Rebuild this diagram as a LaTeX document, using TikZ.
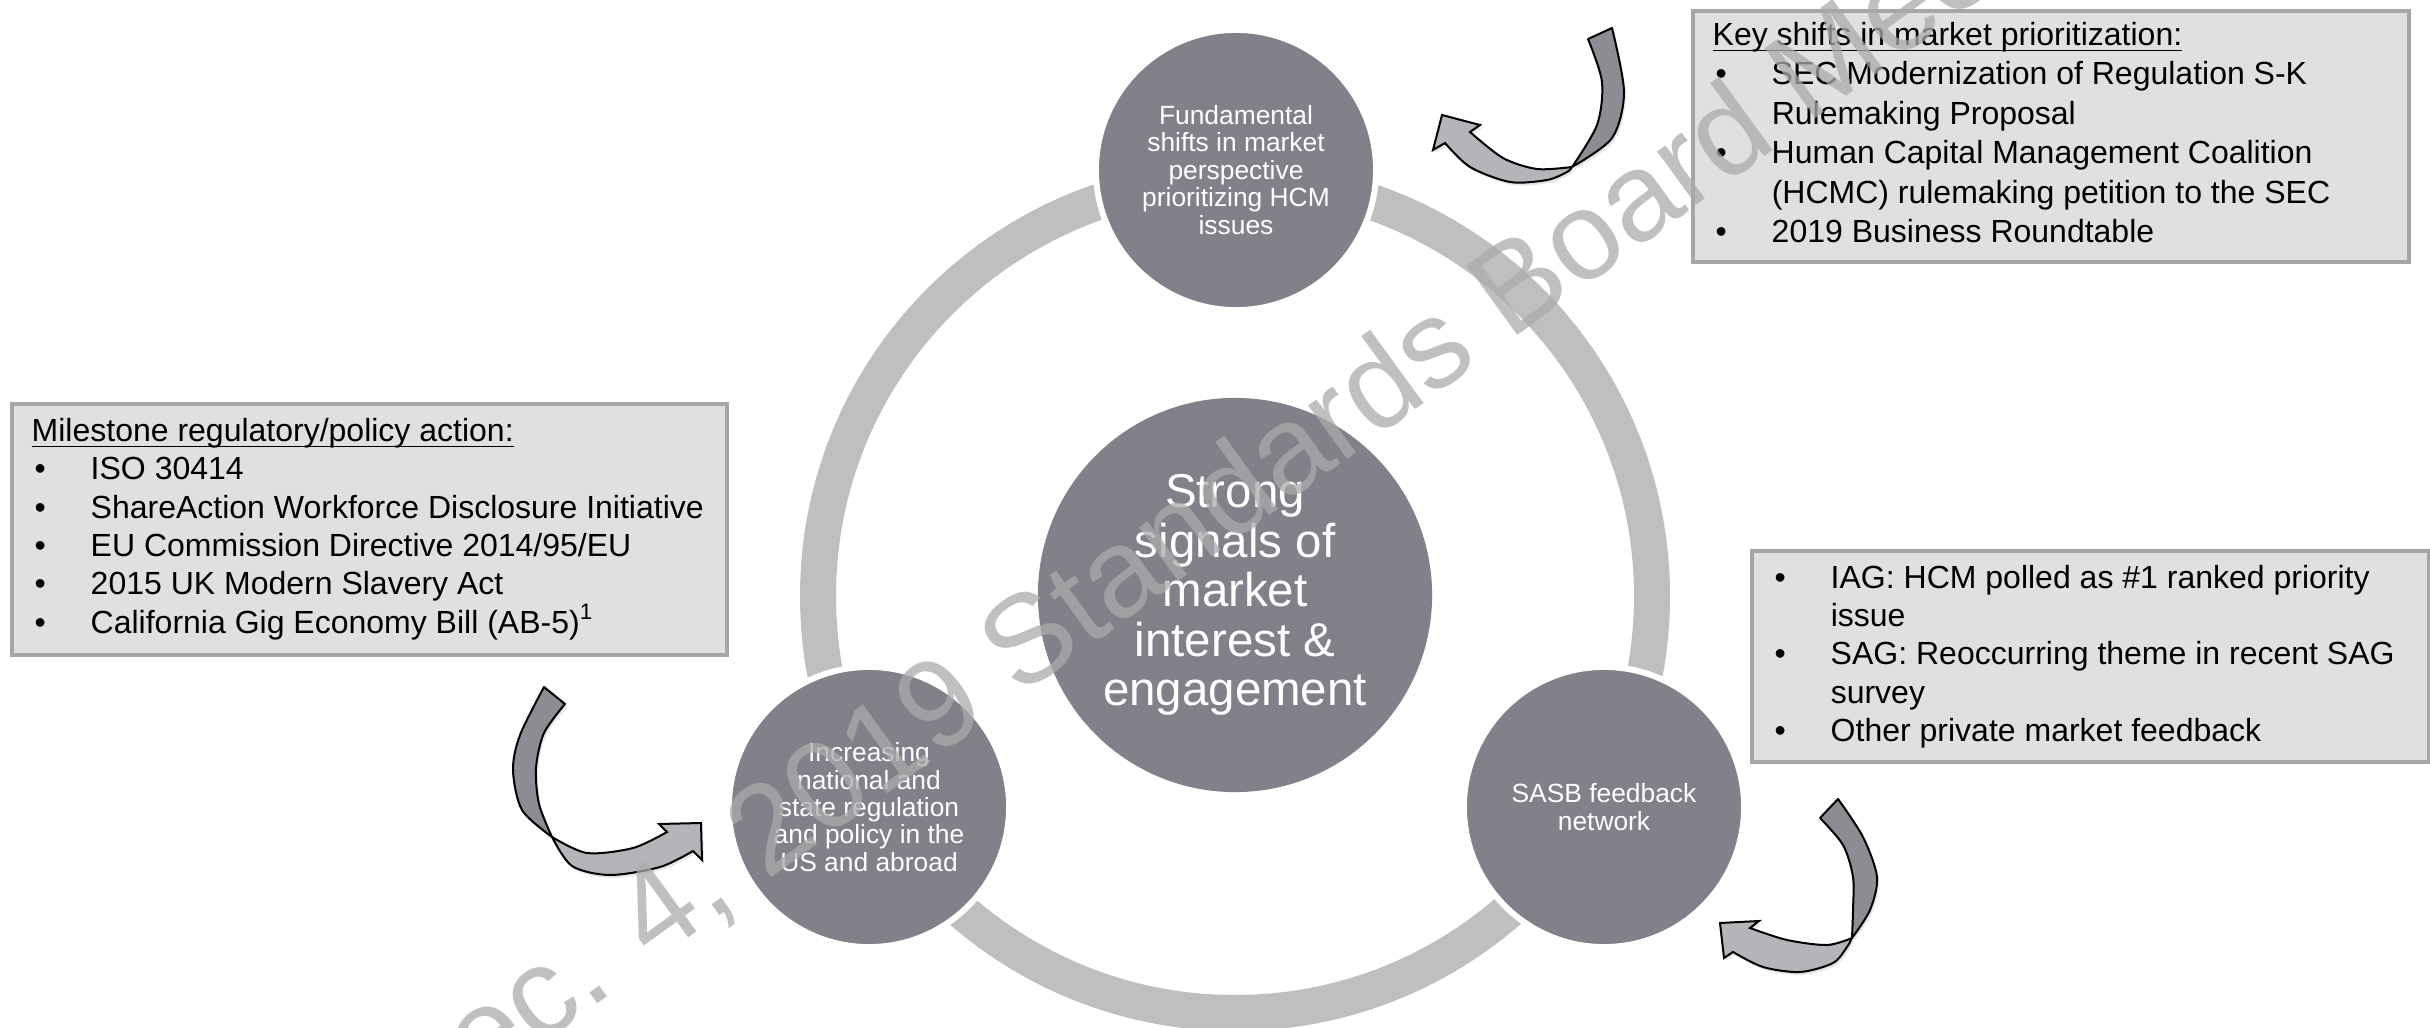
\documentclass[tikz,border=0pt]{standalone}
\usepackage{fontspec}
\setmainfont{Liberation Sans}
\usetikzlibrary{shadows}

\definecolor{ringgray}{RGB}{191,191,191}
\definecolor{discgray}{RGB}{128,129,137}
\definecolor{boxfill}{RGB}{224,224,226}
\definecolor{boxline}{RGB}{166,166,166}
\definecolor{backgray}{RGB}{140,141,147}
\definecolor{frontgray}{RGB}{180,181,185}
\definecolor{markgray}{RGB}{171,171,171}

\newcommand{\bpt}{\makebox[0.59cm][l]{\hspace{0.03cm}\textbullet}}
\newcommand{\bgap}{\hspace*{0.59cm}}
\newcommand{\boxhead}[1]{\underline{\smash{#1}}\vphantom{Ky}}

\begin{document}
\begin{tikzpicture}[x=0.01cm, y=-0.01cm,
    disc/.style={circle, fill=discgray, draw=white, line width=0.06cm, minimum size=2.8cm,
      inner sep=0pt, align=center, text=white, font=\fontsize{7.5}{7.8}\selectfont},
    infobox/.style={rectangle, fill=boxfill, draw=boxline, line width=0.04cm, anchor=north west},
    boxtext/.style={anchor=west, align=left, inner sep=0pt, font=\fontsize{9.1}{10.9}\selectfont},
    backface/.style={fill=backgray, draw=black, line width=0.02cm, line join=round,
      drop shadow={opacity=0.2, shadow xshift=0.02cm, shadow yshift=-0.03cm}},
    frontface/.style={fill=frontgray, draw=black, line width=0.02cm,
      drop shadow={opacity=0.2, shadow xshift=0.02cm, shadow yshift=-0.03cm}}]
  \useasboundingbox (0,0) rectangle (2430,1027);

  \draw [ringgray, line width=0.36cm] (1235,596) circle [radius=417];

  \node [disc] (shiftdisc) at (1236,170) {Fundamental\\shifts in market\\perspective\\prioritizing HCM\\issues};
  \node [disc] (policydisc) at (869,807) {Increasing\\national and\\state regulation\\and policy in the\\US and abroad};
  \node [disc] (feedbackdisc) at (1604,807) {SASB feedback\\network};
  \node [disc, draw=none, minimum size=3.94cm, font=\fontsize{13.5}{14.1}\selectfont] (core) at (1235,595)
    {Strong\\signals of\\market\\interest \&\\engagement};

  \node [infobox, minimum width=7.16cm, minimum height=2.51cm] (shiftbox) at (1691,9) {};
  \node [boxtext, font=\fontsize{9.1}{11.2}\selectfont] (shifttext) at ([xshift=0.21cm, yshift=0.035cm]shiftbox.west)
    {\boxhead{Key shifts in market prioritization:}\\
     \bpt SEC Modernization of Regulation S-K\\
     \bgap Rulemaking Proposal\\
     \bpt Human Capital Management Coalition\\
     \bgap (HCMC) rulemaking petition to the SEC\\
     \bpt 2019 Business Roundtable};

  \node [infobox, minimum width=7.15cm, minimum height=2.51cm] (policybox) at (10,402) {};
  \node [boxtext] (policytext) at ([xshift=0.21cm]policybox.west)
    {\boxhead{Milestone regulatory/policy action:}\\
     \bpt ISO 30414\\
     \bpt ShareAction Workforce Disclosure Initiative\\
     \bpt EU Commission Directive 2014/95/EU\\
     \bpt 2015 UK Modern Slavery Act\\
     \bpt California Gig Economy Bill (AB-5)\textsuperscript{1}};

  \node [infobox, minimum width=6.77cm, minimum height=2.11cm] (feedbackbox) at (1750,549) {};
  \node [boxtext] (feedbacktext) at ([xshift=0.21cm]feedbackbox.west)
    {\bpt IAG: HCM polled as \#1 ranked priority\\
     \bgap issue\\
     \bpt SAG: Reoccurring theme in recent SAG\\
     \bgap survey\\
     \bpt Other private market feedback};

  % curved arrows
  \filldraw [backface] plot [smooth] coordinates {(1612,28) (1624,92) (1612,138) (1572,167)}
    -- plot [smooth] coordinates {(1572,167) (1597,125) (1602,82) (1588,39)} -- cycle;
  \filldraw [frontface] plot [smooth] coordinates {(1572,167) (1537,169) (1503,158) (1470,132)}
    -- (1480,125) -- (1442,115) -- (1433,150) -- (1445,143)
    -- plot [smooth] coordinates {(1445,143) (1470,167) (1510,182) (1547,180) (1567,172) (1572,167)} -- cycle;

  \filldraw [backface] plot [smooth] coordinates {(544,687) (520,735) (513,770) (522,810) (552,837)}
    -- plot [smooth] coordinates {(552,837) (539,804) (536,768) (544,733) (565,704)} -- cycle;
  \filldraw [frontface] plot [smooth] coordinates {(552,837) (587,853) (633,848) (667,832)}
    -- (659,824) -- (701,823) -- (702,860) -- (693,851)
    -- plot [smooth] coordinates {(693,851) (660,867) (610,875) (572,866) (552,837)} -- cycle;

  \filldraw [backface] plot [smooth] coordinates {(1838,799) (1863,837) (1877,877) (1870,910) (1852,938)}
    -- plot [smooth] coordinates {(1852,938) (1853,910) (1853,877) (1843,845) (1820,818)} -- cycle;
  \filldraw [frontface] plot [smooth] coordinates {(1852,938) (1827,945) (1787,940) (1750,928)}
    -- (1759,921) -- (1720,923) -- (1724,958) -- (1733,952)
    -- plot [smooth] coordinates {(1733,952) (1763,967) (1800,972) (1833,963) (1847,947) (1852,938)} -- cycle;

  \node [rotate=36, anchor=base west, text=markgray, text opacity=0.75, font=\fontsize{35.6}{35.6}\selectfont]
    (stamp) at (398,1149) {Dec. 4, 2019 Standards Board Meeting};
\end{tikzpicture}
\end{document}
